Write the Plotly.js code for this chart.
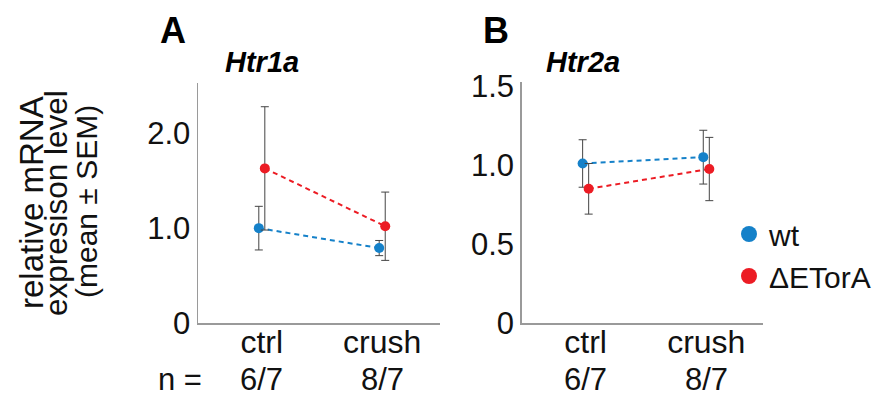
<!DOCTYPE html>
<html>
<head>
<meta charset="utf-8">
<script src="https://cdn.plot.ly/plotly-3.0.1.min.js"></script>
<style>html,body{margin:0;padding:0;background:#fff;}#chart{width:879px;height:403px;}</style>
</head>
<body>
<div id="chart"></div>
<script>
// ---- data ----
const categories = ['ctrl', 'crush'];
const nCounts = ['6/7', '8/7'];
const seriesNames = ['wt', '\u0394ETorA'];

const htr1aWt = [1.00, 0.79];
const htr1aWtSem = [0.23, 0.08];
const htr1aDE = [1.63, 1.02];
const htr1aDESem = [0.65, 0.36];

const htr2aWt = [1.01, 1.05];
const htr2aWtSem = [0.15, 0.17];
const htr2aDE = [0.85, 0.975];
const htr2aDESem = [0.16, 0.20];

const yTicksA = [0, 1, 2];
const yTickTextA = ['0', '1.0', '2.0'];
const yTicksB = [0, 0.5, 1, 1.5];
const yTickTextB = ['0', '0.5', '1.0', '1.5'];

// ---- styling ----
const BLUE = '#1581c9';
const RED = '#ec1c24';
const ERR = '#444444';
const AXIS = '#9a9a9a';
const FONT = 'Liberation Sans, Arial, Helvetica, sans-serif';
const OFF = 0.025;
const idx = categories.map((c, i) => i);
const xs = (o) => idx.map(i => i + o);

function tr(x, y, err, color, xa, ya) {
  return {
    type: 'scatter', mode: 'lines+markers', x: x, y: y, xaxis: xa, yaxis: ya,
    showlegend: false, cliponaxis: false,
    line: {color: color, width: 2, dash: '5px,4px'},
    marker: {color: color, size: 10},
    error_y: {type: 'data', array: err, visible: true, color: ERR, thickness: 1, width: 4}
  };
}

const data = [
  tr(xs(-OFF), htr1aWt, htr1aWtSem, BLUE, 'x', 'y'),
  tr(xs(OFF), htr1aDE, htr1aDESem, RED, 'x', 'y'),
  tr(xs(-OFF), htr2aWt, htr2aWtSem, BLUE, 'x2', 'y2'),
  tr(xs(OFF), htr2aDE, htr2aDESem, RED, 'x2', 'y2'),
  {type: 'scatter', mode: 'markers', x: [null], y: [null], name: seriesNames[0], xaxis: 'x2', yaxis: 'y2',
   marker: {color: BLUE, size: 16}, showlegend: true},
  {type: 'scatter', mode: 'markers', x: [null], y: [null], name: seriesNames[1], xaxis: 'x2', yaxis: 'y2',
   marker: {color: RED, size: 16}, showlegend: true}
];

const xBase = {
  range: [-0.53, 1.48], tickvals: idx, ticktext: categories, showline: true, linecolor: AXIS, linewidth: 1.5,
  showgrid: false, zeroline: false, ticks: '', tickfont: {size: 32, color: '#111', family: FONT},
  ticklabelstandoff: -10, fixedrange: true
};
const yBase = {
  showline: true, linecolor: AXIS, linewidth: 1.5, showgrid: false, zeroline: false, ticks: '',
  tickfont: {size: 31, color: '#111', family: FONT}, ticklabelstandoff: 0, fixedrange: true
};

const annotations = [
  {text: '<b>A</b>', x: 173, y: 31},
  {text: '<b>B</b>', x: 496, y: 31},
].map(a => ({text: a.text, x: a.x / 879, y: 1 - a.y / 403, xref: 'paper', yref: 'paper', showarrow: false,
  xanchor: 'center', yanchor: 'middle', font: {size: 36, family: FONT, color: '#000'}}));

[['<b><i>Htr1a</i></b>', 262], ['<b><i>Htr2a</i></b>', 583]].forEach(t => annotations.push({
  text: t[0], x: t[1] / 879, y: 1 - 62 / 403, xref: 'paper', yref: 'paper', showarrow: false,
  xanchor: 'center', yanchor: 'middle', font: {size: 29, family: FONT, color: '#000'}}));

[['relative mRNA', 31, 203, 33], ['expresison level', 56, 203, 31.5], ['(mean \u00b1 SEM)', 87, 202, 30]].forEach(t =>
  annotations.push({text: t[0], x: t[1] / 879, y: 1 - t[2] / 403, xref: 'paper', yref: 'paper', showarrow: false,
    textangle: -90, xanchor: 'center', yanchor: 'middle', font: {size: t[3], family: FONT, color: '#111'}}));

annotations.push({text: 'n =', x: 180 / 879, y: 1 - 379 / 403, xref: 'paper', yref: 'paper', showarrow: false,
  xanchor: 'center', yanchor: 'middle', font: {size: 31, family: FONT, color: '#111'}});
['x', 'x2'].forEach(xr => nCounts.forEach((n, i) => annotations.push({
  text: n, x: idx[i], y: 1 - 379 / 403, xref: xr, yref: 'paper', showarrow: false,
  xanchor: 'center', yanchor: 'middle', font: {size: 31, family: FONT, color: '#111'}})));

const layout = {
  width: 879, height: 403, margin: {l: 0, r: 0, t: 0, b: 0}, paper_bgcolor: '#fff', plot_bgcolor: 'rgba(0,0,0,0)',
  showlegend: true,
  xaxis: Object.assign({}, xBase, {domain: [198 / 879, 440 / 879], anchor: 'y'}),
  yaxis: Object.assign({}, yBase, {domain: [1 - 323 / 403, 1 - 83 / 403], range: [0, 2.53], tickvals: yTicksA, ticktext: yTickTextA, anchor: 'x'}),
  xaxis2: Object.assign({}, xBase, {domain: [521.7 / 879, 763 / 879], range: [-0.53, 1.47], anchor: 'y2'}),
  yaxis2: Object.assign({}, yBase, {domain: [1 - 323.3 / 403, 1 - 82 / 403], range: [0, 1.525], tickvals: yTicksB, ticktext: yTickTextB, anchor: 'x2'}),
  legend: {x: 729 / 879, y: 1 - 208 / 403, xanchor: 'left', yanchor: 'top', bgcolor: 'rgba(0,0,0,0)',
    font: {size: 30, family: FONT, color: '#111'}, itemsizing: 'trace', tracegroupgap: 0},
  annotations: annotations
};

Plotly.newPlot('chart', data, layout, {staticPlot: true, displayModeBar: false});
</script>
</body>
</html>
